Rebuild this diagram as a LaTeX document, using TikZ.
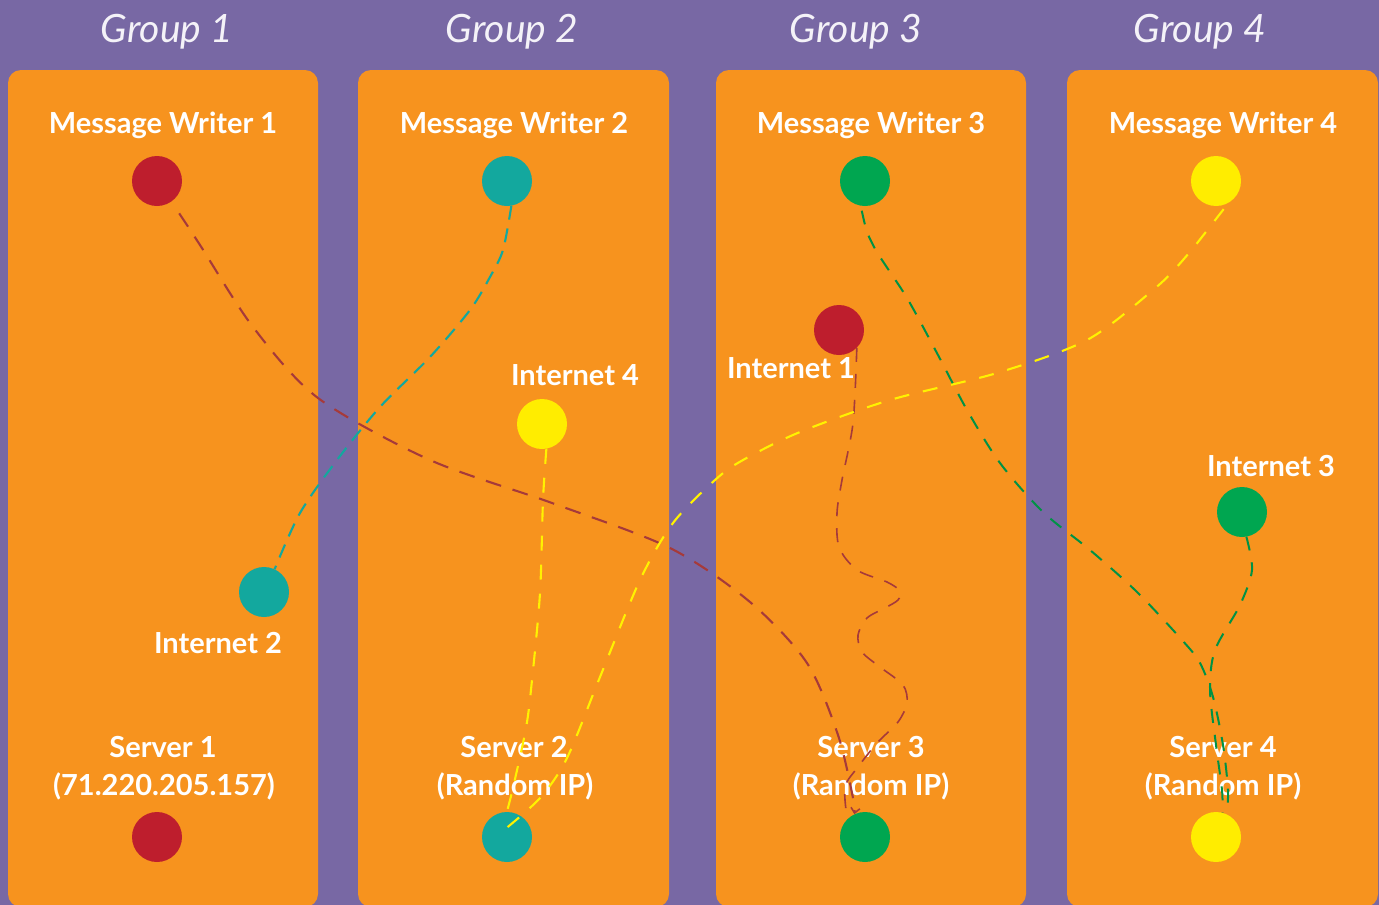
\documentclass[tikz,border=0pt]{standalone}
\usepackage{fontspec}
\setmainfont{Lato}
\usetikzlibrary{arrows.meta}
\definecolor{bgpurple}{HTML}{7868A4}
\definecolor{panelorange}{HTML}{F7931E}
\definecolor{dotred}{HTML}{BE1E2D}
\definecolor{dotteal}{HTML}{13A89E}
\definecolor{dotgreen}{HTML}{00A650}
\definecolor{dotyellow}{HTML}{FFED00}
\definecolor{linered}{HTML}{A63A3A}
\definecolor{lineteal}{HTML}{13A89E}
\definecolor{linegreen}{HTML}{009245}
\definecolor{lineyellow}{HTML}{FFF200}
\definecolor{headwhite}{HTML}{F4F2F8}
\begin{document}
\begin{tikzpicture}[x=1pt,y=-1pt,
  panel/.style={fill=panelorange, rounded corners=13pt},
  dot/.style={circle, minimum size=50pt, inner sep=0pt},
  lbl/.style={text=white, font=\bfseries\fontsize{29}{34}\selectfont, anchor=base, inner sep=0pt},
  grp/.style={text=headwhite, font=\itshape\fontsize{39}{44}\selectfont, anchor=base, inner sep=0pt},
  conn/.style={line cap=butt, line join=round},
  redc/.style={conn, draw=linered, line width=2.1pt, dash pattern=on 16pt off 12pt},
  redthin/.style={conn, draw=linered, line width=1.6pt, dash pattern=on 14pt off 12pt},
  tealc/.style={conn, draw=lineteal, line width=2.1pt, dash pattern=on 14pt off 9pt},
  yelc/.style={conn, draw=lineyellow, line width=2.1pt, dash pattern=on 15pt off 14pt},
  grnc/.style={conn, draw=linegreen, line width=2pt, dash pattern=on 14pt off 12pt}
]
\useasboundingbox (0,0) rectangle (1379,905);
\fill[bgpurple] (0,0) rectangle (1379,905);

% panels
\fill[panel] (8,70) rectangle (318,907);
\fill[panel] (358,70) rectangle (669,907);
\fill[panel] (716,70) rectangle (1026,907);
\fill[panel] (1067,70) rectangle (1378,907);

% group headers
\node[grp] (g1) at (167,42) {Group 1};
\node[grp] (g2) at (512,42) {Group 2};
\node[grp] (g3) at (856,42) {Group 3};
\node[grp] (g4) at (1200,42) {Group 4};

% writer labels
\node[lbl] (mw1l) at (163,133) {Message Writer 1};
\node[lbl] (mw2l) at (514,133) {Message Writer 2};
\node[lbl] (mw3l) at (871,133) {Message Writer 3};
\node[lbl] (mw4l) at (1223,133) {Message Writer 4};

% internet labels
\node[lbl] (i1l) at (791,378) {Internet 1};
\node[lbl] (i2l) at (218,653) {Internet 2};
\node[lbl] (i3l) at (1271,476) {Internet 3};
\node[lbl] (i4l) at (575,385) {Internet 4};

% server labels
\node[lbl] (s1l) at (163,757) {Server 1};
\node[lbl] (s1ip) at (164,795) {(71.220.205.157)};
\node[lbl] (s2l) at (514,757) {Server 2};
\node[lbl] (s2ip) at (515,795) {(Random IP)};
\node[lbl] (s3l) at (871,757) {Server 3};
\node[lbl] (s3ip) at (871,795) {(Random IP)};
\node[lbl] (s4l) at (1223,757) {Server 4};
\node[lbl] (s4ip) at (1223,795) {(Random IP)};

% dots
\node[dot, fill=dotred] (mw1) at (157,181) {};
\node[dot, fill=dotteal] (mw2) at (507,181) {};
\node[dot, fill=dotgreen] (mw3) at (865,181) {};
\node[dot, fill=dotyellow] (mw4) at (1216,181) {};
\node[dot, fill=dotred] (i1) at (839,330) {};
\node[dot, fill=dotteal] (i2) at (264,592) {};
\node[dot, fill=dotgreen] (i3) at (1242,512) {};
\node[dot, fill=dotyellow] (i4) at (542,424) {};
\node[dot, fill=dotred] (s1) at (157,837) {};
\node[dot, fill=dotteal] (s2) at (507,837) {};
\node[dot, fill=dotgreen] (s3) at (865,837) {};
\node[dot, fill=dotyellow] (s4) at (1216,837) {};

% connectors
\draw[redc, shorten <=14pt, -{Straight Barb[length=5pt,width=9pt,line width=1.6pt]}] plot[smooth, tension=0.5] coordinates {(mw1.-55) (200,245) (253,327) (318,398) (430,460) (552,503) (670,548) (750,602) (807,663) (838,735) (853,798) (s3.115)};
\draw[redthin] plot[smooth, tension=0.5] coordinates {(i1.-45) (853,423) (842,480) (837,513) (839,547) (857,570) (887,582) (900,591) (898,600) (885,608) (867,618) (858,635) (862,652) (880,667) (903,685) (907,703) (898,722) (877,743) (858,767) (845,787) (s3.135)};
\draw[tealc] plot[smooth, tension=0.5] coordinates {(mw2.-80) (503,250) (490,277) (470,310) (430,357) (380,407) (337,460) (300,513) (i2.65)};
\draw[yelc, shorten <=8pt] plot[smooth, tension=0.5] coordinates {(mw4.-60) (1183,260) (1153,290) (1087,340) (997,373) (890,400) (800,432) (743,460) (715,480) (673,523) (640,580) (600,677) (567,758) (540,798) ([shift={(-3,-7)}]s2.center)};
\draw[yelc] plot[smooth, tension=0.5] coordinates {(i4.-80) (543,500) (540,593) (532,680) (526,728) (512,792) ([shift={(-3,-15)}]s2.center)};
\draw[grnc, shorten <=5pt] plot[smooth, tension=0.5] coordinates {(mw3.-100) (873,245) (907,298) (938,355) (967,410) (1000,463) (1043,512) (1090,550) (1137,592) (1182,640) (1200,663) (1213,697) (1223,745) (1228,790) (s4.65)};
\draw[grnc] plot[smooth, tension=0.5] coordinates {(i3.-80) (1252,570) (1240,605) (1215,650) (1210,690) (1216,745) (1222,790) (s4.75)};
\end{tikzpicture}
\end{document}
